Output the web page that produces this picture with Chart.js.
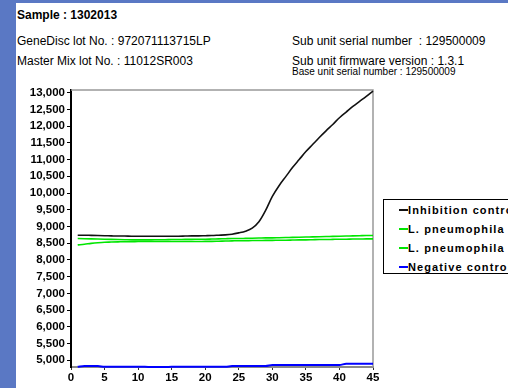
<!DOCTYPE html>
<html>
<head>
<meta charset="utf-8">
<script src="https://cdn.jsdelivr.net/npm/chart.js@4/dist/chart.umd.min.js"></script>
<style>
    html, body { margin: 0; padding: 0; }
    body { width: 508px; height: 388px; background: #5a78c4; position: relative; overflow: hidden; font-family: "Liberation Sans", Arial, sans-serif; }
    #page { position: absolute; left: 16px; top: 3px; width: 492px; height: 385px; background: #fff; }
    .txt { position: absolute; font-size: 12px; line-height: 12px; color: #000; white-space: nowrap; }
    #chart { position: absolute; left: 0; top: 0; }
    #legend { position: absolute; left: 383px; top: 199px; width: 160px; height: 73px; border: 1.5px solid #000; background: #fff; }
    .row { position: absolute; left: 0; height: 12px; white-space: nowrap; font-weight: bold; font-size: 11px; line-height: 12px; letter-spacing: 1.1px; }
    .row span.swatch { position: absolute; left: 15px; top: 5px; width: 9px; height: 2px; }
    .row span.lbl { position: absolute; left: 24px; top: 0; }
</style>
</head>
<body>
<div id="page"></div>
<div class="txt" style="left:17px;top:9px;font-weight:bold;">Sample : 1302013</div>
<div class="txt" style="left:17px;top:35px;">GeneDisc lot No. : 972071113715LP</div>
<div class="txt" style="left:17px;top:55px;">Master Mix lot No. : 11012SR003</div>
<div class="txt" style="left:292px;top:35px;">Sub unit serial number&nbsp; : 129500009</div>
<div class="txt" style="left:292px;top:55px;">Sub unit firmware version : 1.3.1</div>
<div class="txt" style="left:292px;top:67px;font-size:10px;line-height:10px;">Base unit serial number : 129500009</div>
<canvas id="chart" width="508" height="388"></canvas>
<div id="legend"></div>
<script>
// cycles
const cycles = [1, 2, 3, 4, 5, 6, 7, 8, 9, 10, 11, 12, 13, 14, 15, 16, 17, 18, 19, 20, 21, 22, 23, 24, 25, 26, 27, 28, 29, 30, 31, 32, 33, 34, 35, 36, 37, 38, 39, 40, 41, 42, 43, 44, 45];

const seriesNames = ['Inhibition control', 'L. pneumophila sg1', 'L. pneumophila spp', 'Negative control'];

const inhibition = [8740, 8740, 8735, 8730, 8725, 8720, 8715, 8715, 8710, 8710,
    8710, 8710, 8710, 8710, 8710, 8710, 8715, 8720, 8720, 8725,
    8730, 8740, 8750, 8770, 8810, 8860, 8950, 9140, 9480, 9900,
    10220, 10490, 10760, 11000, 11240, 11450, 11660, 11860, 12050, 12250,
    12420, 12590, 12740, 12890, 13050];

const pneumoA = [8640, 8635, 8630, 8625, 8620, 8615, 8610, 8605, 8600, 8600,
    8600, 8600, 8605, 8605, 8610, 8610, 8615, 8615, 8620, 8620,
    8625, 8630, 8635, 8640, 8640, 8645, 8650, 8655, 8660, 8660,
    8665, 8670, 8675, 8680, 8685, 8690, 8695, 8700, 8705, 8710,
    8715, 8720, 8725, 8730, 8730];

const pneumoB = [8450, 8470, 8495, 8515, 8530, 8535, 8540, 8545, 8545, 8550,
    8550, 8550, 8550, 8550, 8550, 8550, 8550, 8550, 8550, 8555,
    8555, 8560, 8565, 8570, 8575, 8575, 8580, 8580, 8585, 8585,
    8590, 8590, 8595, 8600, 8600, 8605, 8610, 8610, 8615, 8620,
    8620, 8625, 8625, 8630, 8630];

const negative = [4805, 4830, 4830, 4830, 4805, 4805, 4805, 4805, 4805, 4805,
    4805, 4800, 4800, 4800, 4805, 4805, 4805, 4805, 4805, 4805,
    4805, 4805, 4805, 4830, 4830, 4830, 4830, 4830, 4830, 4860,
    4860, 4860, 4860, 4860, 4860, 4860, 4860, 4860, 4860, 4860,
    4895, 4895, 4895, 4895, 4895];

const xTicks = [0, 5, 10, 15, 20, 25, 30, 35, 40, 45];
const yTicks = [5000, 5500, 6000, 6500, 7000, 7500, 8000, 8500, 9000, 9500, 10000, 10500, 11000, 11500, 12000, 12500, 13000];

const colors = ['#111111', '#00e600', '#00e600', '#0000ff'];
const widths = [1.6, 1.6, 1.6, 2];

Chart.defaults.font.family = '"Liberation Sans", Arial, sans-serif';
Chart.defaults.color = '#000';

function toPoints(values) {
    return values.map((v, i) => ({x: cycles[i], y: v}));
}

// gray frame on top and right of the plot
const framePlugin = {
    id: 'frame',
    beforeDatasetsDraw(chart) {
        const {ctx, chartArea} = chart;
        ctx.save();
        ctx.strokeStyle = '#999';
        ctx.lineWidth = 1.5;
        ctx.beginPath();
        ctx.moveTo(chartArea.left, chartArea.top);
        ctx.lineTo(chartArea.right, chartArea.top);
        ctx.lineTo(chartArea.right, chartArea.bottom);
        ctx.stroke();
        ctx.restore();
    }
};

const allSeries = [inhibition, pneumoA, pneumoB, negative];

const chart = new Chart(document.getElementById('chart'), {
    type: 'line',
    data: {
        datasets: allSeries.map((values, i) => ({
            label: seriesNames[i],
            data: toPoints(values),
            borderColor: colors[i],
            borderWidth: widths[i],
            pointRadius: 0,
            cubicInterpolationMode: 'monotone',
            clip: false
        })).reverse()
    },
    options: {
        responsive: false,
        animation: false,
        devicePixelRatio: 1,
        layout: {padding: {top: 90, right: 135, left: 0, bottom: 0}},
        plugins: {legend: {display: false}, tooltip: {enabled: false}},
        scales: {
            x: {
                type: 'linear',
                min: 0,
                max: 45,
                afterBuildTicks: axis => { axis.ticks = xTicks.map(v => ({value: v})); },
                afterFit: axis => { axis.height = 21; },
                grid: {drawOnChartArea: false, tickLength: 3, color: '#333'},
                border: {color: '#8a8a8a', width: 2},
                ticks: {padding: 1, maxRotation: 0, font: {size: 11.5, weight: 'bold'}}
            },
            y: {
                min: 4800,
                max: 13080,
                afterBuildTicks: axis => { axis.ticks = yTicks.map(v => ({value: v})); },
                afterFit: axis => { axis.width = 71; },
                grid: {drawOnChartArea: false, tickLength: 4, color: '#000'},
                border: {color: '#000', width: 2},
                ticks: {
                    padding: 2,
                    font: {size: 11.5, weight: 'bold'},
                    callback: v => v.toLocaleString('en-US')
                }
            }
        }
    },
    plugins: [framePlugin]
});

// legend (clipped by the window edge, as in the report)
const legend = document.getElementById('legend');
seriesNames.forEach((name, i) => {
    const row = document.createElement('div');
    row.className = 'row';
    row.style.top = (4 + i * 19) + 'px';
    row.innerHTML = '<span class="swatch" style="background:' + colors[i] + '"></span><span class="lbl">' + name + '</span>';
    legend.appendChild(row);
});
</script>
</body>
</html>
